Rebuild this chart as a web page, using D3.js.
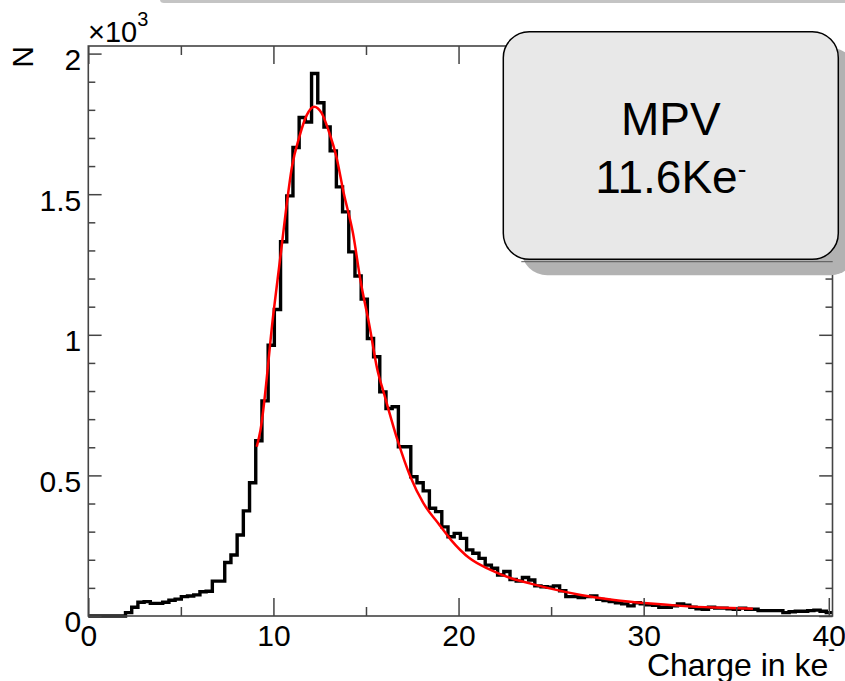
<!DOCTYPE html>
<meta charset="utf-8">
<style>
body { margin: 0; background: #fff; }
svg { display: block; font-family: "Liberation Sans", Arial, Helvetica, sans-serif; }
</style>
<body>
<svg width="845" height="681"></svg>
<script src="https://d3js.org/d3.v7.min.js"></script>
<script>
// histogram range and bin contents (120 bins)
var binLow = 0, binHigh = 40.2;
var yTop = 2027;
var counts = [
  0, 0, 0, 0, 0, 0, 12, 31, 49, 51,
  45, 45, 49, 56, 60, 69, 71, 75, 86, 88,
  124, 124, 190, 217, 288, 374, 474, 623, 765, 963,
  1090, 1331, 1494, 1666, 1773, 1757, 1929, 1825, 1739, 1654,
  1526, 1437, 1295, 1209, 1127, 987, 922, 797, 738, 744,
  602, 602, 495, 474, 445, 383, 371, 317, 282, 294,
  276, 235, 223, 205, 181, 170, 146, 158, 130, 124,
  137, 128, 107, 104, 102, 107, 90, 69, 69, 66,
  69, 71, 59, 55, 51, 47, 43, 36, 47, 43,
  40, 38, 31, 31, 36, 43, 38, 31, 26, 24,
  31, 28, 28, 26, 24, 28, 24, 24, 19, 19,
  19, 19, 12, 15, 17, 17, 19, 21, 17, 12
];

// fit curve
var fitX = [9.1, 9.3, 10.0, 10.4, 10.7, 11.0, 11.4, 11.8, 12.2, 12.6, 13.0, 13.4, 13.8, 14.3, 14.7, 15.2, 15.6,
            16.0, 16.7, 17.4, 18.1, 18.9, 19.6, 20.6, 21.7, 22.8, 23.9, 24.8, 26.6, 28.4, 30.2, 32.0, 33.8, 35.9];
var fitY = [602, 661, 1076, 1290, 1455, 1597, 1704, 1781, 1811, 1789, 1722, 1633, 1503, 1360, 1194, 1028, 880,
            785, 626, 495, 401, 330, 270, 205, 165, 135, 115, 100, 75, 57, 45, 36, 30, 26];

var xTicks = [0, 10, 20, 30, 40];
var xMinor = [5, 15, 25, 35];
var yTicks = [0, 500, 1000, 1500, 2000];
var yTickLabels = ["0", "0.5", "1", "1.5", "2"];
var yMinor = [100, 200, 300, 400, 600, 700, 800, 900, 1100, 1200, 1300, 1400, 1600, 1700, 1800, 1900];

var svg = d3.select("svg"),
    margin = {top: 46, right: 12.5, bottom: 65, left: 88.3},
    width = +svg.attr("width") - margin.left - margin.right,
    height = +svg.attr("height") - margin.top - margin.bottom;

// slide edge at the very top
svg.append("rect").attr("x", 160).attr("y", -4).attr("width", 700).attr("height", 7)
    .attr("rx", 4).attr("fill", "#c4c4c4");

var g = svg.append("g").attr("transform", "translate(" + margin.left + "," + margin.top + ")");

var x = d3.scaleLinear().domain([binLow, binHigh]).range([0, width]);
var y = d3.scaleLinear().domain([0, yTop]).range([height, 0]);

var bw = (binHigh - binLow) / counts.length;
var histPts = counts.map(function(c, i) { return [binLow + i * bw, c]; });
histPts.push([binHigh, counts[counts.length - 1]]);

var histLine = d3.line()
    .x(function(d) { return x(d[0]); })
    .y(function(d) { return y(d[1]); })
    .curve(d3.curveStepAfter);

g.append("path")
    .datum(histPts)
    .attr("d", histLine)
    .attr("fill", "none")
    .attr("stroke", "#000")
    .attr("stroke-width", 3.4);

var fitLine = d3.line()
    .x(function(d, i) { return x(fitX[i]); })
    .y(function(d) { return y(d); })
    .curve(d3.curveMonotoneX);

g.append("path")
    .datum(fitY)
    .attr("d", fitLine)
    .attr("fill", "none")
    .attr("stroke", "#ff0000")
    .attr("stroke-width", 2.5);

// frame
g.append("rect")
    .attr("width", width).attr("height", height)
    .attr("fill", "none").attr("stroke", "#444").attr("stroke-width", 1.6);

function style(sel) {
  sel.select(".domain").remove();
  sel.attr("font-family", null).attr("font-size", 30);
  sel.selectAll("line").attr("stroke", "#444").attr("stroke-width", 1.5);
  sel.selectAll("text").attr("fill", "#000");
}

g.append("g").attr("transform", "translate(0," + height + ")")
    .call(d3.axisBottom(x).tickValues(xTicks).tickSizeInner(-18).tickSizeOuter(0).tickPadding(8.5).tickFormat(d3.format("d")))
    .call(style);
g.append("g").attr("transform", "translate(0," + height + ")")
    .call(d3.axisBottom(x).tickValues(xMinor).tickSizeInner(-9).tickSizeOuter(0).tickFormat(""))
    .call(style);
g.append("g")
    .call(d3.axisTop(x).tickValues(xTicks).tickSizeInner(-18).tickSizeOuter(0).tickFormat(""))
    .call(style);
g.append("g")
    .call(d3.axisTop(x).tickValues(xMinor).tickSizeInner(-9).tickSizeOuter(0).tickFormat(""))
    .call(style);

g.append("g")
    .call(d3.axisLeft(y).tickValues(yTicks).tickSizeInner(-13.3).tickSizeOuter(0).tickPadding(7)
      .tickFormat(function(d, i) { return yTickLabels[i]; }))
    .call(style)
    .selectAll("text").attr("dy", "0.53em");
g.append("g")
    .call(d3.axisLeft(y).tickValues(yMinor).tickSizeInner(-7).tickSizeOuter(0).tickFormat(""))
    .call(style);
g.append("g").attr("transform", "translate(" + width + ",0)")
    .call(d3.axisRight(y).tickValues(yTicks).tickSizeInner(-13.3).tickSizeOuter(0).tickFormat(""))
    .call(style);
g.append("g").attr("transform", "translate(" + width + ",0)")
    .call(d3.axisRight(y).tickValues(yMinor).tickSizeInner(-7).tickSizeOuter(0).tickFormat(""))
    .call(style);

// axis titles
var xt = svg.append("text")
    .attr("x", 835).attr("y", 676)
    .attr("text-anchor", "end")
    .attr("font-size", 32)
    .text("Charge in ke");
xt.append("tspan").attr("font-size", 20).attr("dy", -20).text("-");

svg.append("text")
    .attr("transform", "translate(33,46) rotate(-90)")
    .attr("text-anchor", "end")
    .attr("font-size", 30)
    .text("N");

var ex = svg.append("text")
    .attr("x", 88).attr("y", 42)
    .attr("font-size", 29)
    .text("\u00d710");
ex.append("tspan").attr("font-size", 20).attr("dy", -16).text("3");

// MPV box
var box = {x: 503.3, y: 31.7, w: 335, h: 227.6};
svg.append("rect")
    .attr("x", box.x + 18).attr("y", box.y + 16)
    .attr("width", box.w).attr("height", box.h)
    .attr("rx", 26).attr("fill", "#b2b2b2");
svg.append("line")
    .attr("x1", box.x + 18).attr("x2", 832.7)
    .attr("y1", 261.7).attr("y2", 261.7)
    .attr("stroke", "#555").attr("stroke-width", 1);
svg.append("rect")
    .attr("x", box.x).attr("y", box.y)
    .attr("width", box.w).attr("height", box.h)
    .attr("rx", 26)
    .attr("fill", "#e8e8e8")
    .attr("stroke", "#000").attr("stroke-width", 1.5);

svg.append("text")
    .attr("x", box.x + box.w / 2).attr("y", 135)
    .attr("text-anchor", "middle")
    .attr("font-size", 46)
    .text("MPV");
var mv = svg.append("text")
    .attr("x", box.x + box.w / 2).attr("y", 193)
    .attr("text-anchor", "middle")
    .attr("font-size", 46)
    .text("11.6Ke");
mv.append("tspan").attr("font-size", 26).attr("dy", -15).text("-");
</script>
</body>
